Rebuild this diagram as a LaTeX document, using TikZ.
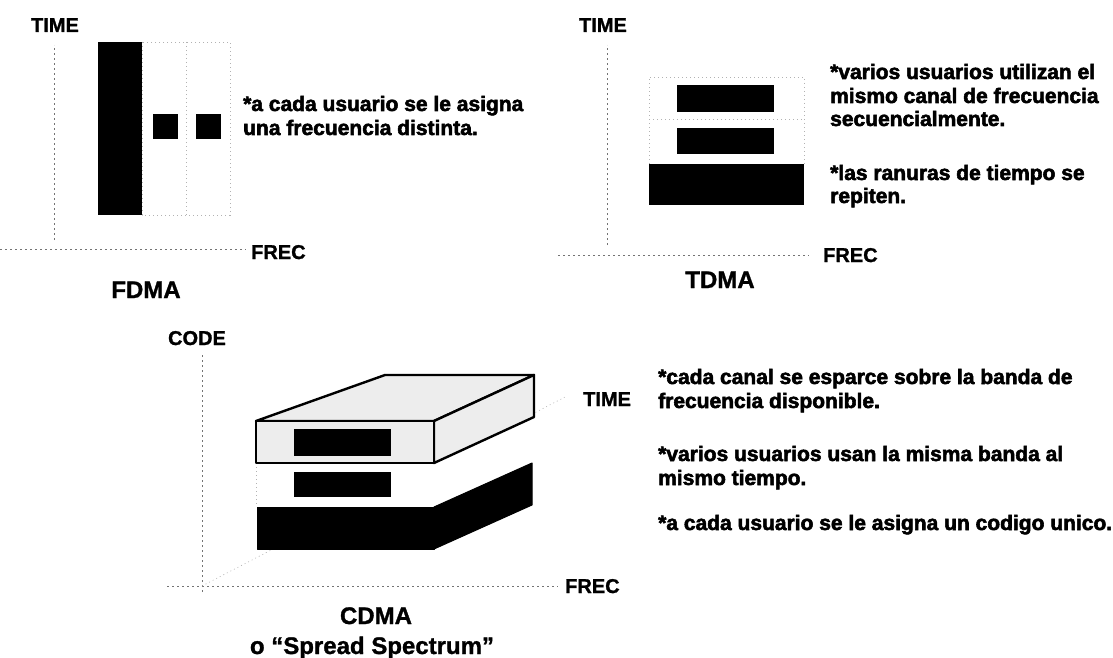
\documentclass[tikz,border=0pt]{standalone}
\usepackage{fontspec}
\setmainfont{Liberation Sans}
\newfontfamily\heavyfam{Liberation Sans}[FakeBold=2.6]
\newfontfamily\labelfam{Liberation Sans}[FakeBold=1.2]
\newcommand{\bodyfont}{\heavyfam\bfseries\fontsize{21}{24}\selectfont}
\newcommand{\axisfont}{\labelfam\bfseries\fontsize{20}{22}\selectfont}
\newcommand{\titlefont}{\labelfam\bfseries\fontsize{24}{26}\selectfont}

\tikzset{
  bar/.style={fill=black, draw=none},
  faint/.style={draw=black!30, line width=0.6pt, dash pattern=on 1pt off 3pt},
  axisline/.style={draw=black!55, line width=0.8pt, dash pattern=on 2pt off 3pt},
  body/.style={font=\bodyfont, anchor=base west, inner sep=0pt},
  axlabel/.style={font=\axisfont, inner sep=0pt},
  title/.style={font=\titlefont, anchor=base, inner sep=0pt},
  slab/.style={draw=black, line width=2.4pt, line join=round, fill=black!7},
  darkslab/.style={fill=black, draw=black, line width=1pt, line join=round},
  whiteslab/.style={fill=white, draw=none}
}

\begin{document}
\begin{tikzpicture}[x=1pt, y=-1pt]
\useasboundingbox (0,0) rectangle (1113,658);

% ---------------- FDMA ----------------
\coordinate (fv0) at (54,240);
\coordinate (fv1) at (54,45);
\coordinate (fh0) at (0,249);
\coordinate (fh1) at (246,249);
\draw[axisline] (fv0) -- (fv1);
\draw[axisline] (fh0) -- (fh1);
\node[axlabel, anchor=base] (ftime) at (55,32) {TIME};
\node[axlabel, anchor=base west] (ffrec) at (251,259) {FREC};
\node[title] (fdma) at (146,298) {FDMA};

\draw[faint] (142,42) rectangle (230,215);
\draw[faint] (186,42) -- (186,215);
\fill[bar] (98,42) rectangle (142,215);
\fill[bar] (153,114) rectangle (178,139);
\fill[bar] (196,114) rectangle (221,139);

\node[body] (ft1) at (243,111) {*a cada usuario se le asigna};
\node[body] (ft2) at (243,135) {una frecuencia distinta.};

% ---------------- TDMA ----------------
\coordinate (tv0) at (607,245);
\coordinate (tv1) at (607,45);
\coordinate (th0) at (558,255);
\coordinate (th1) at (809,255);
\draw[axisline] (tv0) -- (tv1);
\draw[axisline] (th0) -- (th1);
\node[axlabel, anchor=base] (ttime) at (603,32) {TIME};
\node[axlabel, anchor=base west] (tfrec) at (823,262) {FREC};
\node[title] (tdma) at (720,288) {TDMA};

\draw[faint] (649,164) -- (649,77) -- (804,77) -- (804,164);
\draw[faint] (649,119) -- (804,119);
\fill[bar] (677,85) rectangle (774,112);
\fill[bar] (677,128) rectangle (774,154);
\fill[bar] (649,164) rectangle (804,205);

\node[body] (tt1) at (830,79) {*varios usuarios utilizan el};
\node[body] (tt2) at (830,103) {mismo canal de frecuencia};
\node[body] (tt3) at (830,126) {secuencialmente.};
\node[body] (tt4) at (830,180) {*las ranuras de tiempo se};
\node[body] (tt5) at (830,203) {repiten.};

% ---------------- CDMA ----------------
\coordinate (cv0) at (202,592);
\coordinate (cv1) at (202,355);
\coordinate (ch0) at (167,586);
\coordinate (ch1) at (558,586);
\coordinate (cd0) at (202,586);
\coordinate (cd1) at (565,397);
\draw[axisline] (cv0) -- (cv1);
\draw[axisline] (ch0) -- (ch1);
\draw[faint] (cd0) -- (cd1);
\node[axlabel, anchor=base] (ccode) at (197,345) {CODE};
\node[axlabel, anchor=base west] (cfrec) at (565,593) {FREC};
\node[axlabel, anchor=base west] (ctime) at (583,406) {TIME};

% middle (white) layer, hiding the depth axis behind it
\fill[whiteslab] (256,463) -- (434,463) -- (534,417) -- (534,463) -- (434,507) -- (256,507) -- cycle;
\draw[faint] (256,463) -- (256,507);

% bottom dark slab
\filldraw[darkslab] (257,507) -- (434,507) -- (434,549) -- (257,549) -- cycle;
\filldraw[darkslab] (434,507) -- (532,463) -- (532,505) -- (434,549) -- cycle;

% top light slab
\filldraw[slab] (256,421) -- (385,375) -- (534,375) -- (434,421) -- cycle;
\filldraw[slab] (434,421) -- (534,375) -- (534,417) -- (434,463) -- cycle;
\filldraw[slab] (256,421) rectangle (434,463);

% user channels
\fill[bar] (294,429) rectangle (391,456);
\fill[bar] (294,472) rectangle (391,497);

\node[body] (ct1) at (658,384) {*cada canal se esparce sobre la banda de};
\node[body] (ct2) at (658,408) {frecuencia disponible.};
\node[body] (ct3) at (658,461) {*varios usuarios usan la misma banda al};
\node[body] (ct4) at (658,485) {mismo tiempo.};
\node[body] (ct5) at (658,530) {*a cada usuario se le asigna un codigo unico.};

\node[title] (cdma) at (376,624) {CDMA};
\node[title] (spread) at (372,654) {o “Spread Spectrum”};
\end{tikzpicture}
\end{document}
